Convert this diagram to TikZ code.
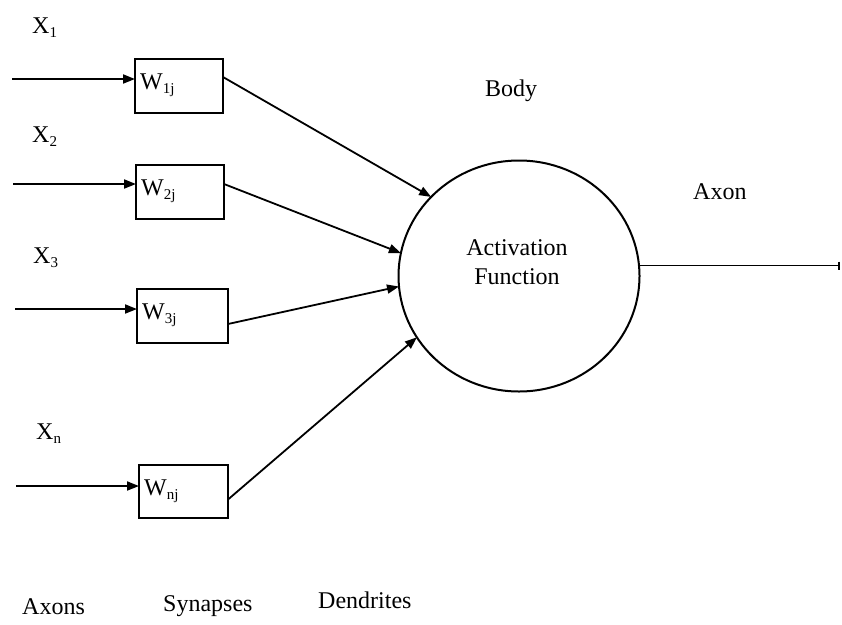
\documentclass[tikz,border=0pt]{standalone}
\usepackage{fontspec}
\setmainfont{Liberation Serif}
\usetikzlibrary{shapes.geometric,arrows.meta}
\newcommand\lowix[1]{\raisebox{-4pt}{\fontsize{15}{15}\selectfont #1}}
\tikzset{
  txt/.style={font=\fontsize{24}{29}\selectfont, inner sep=0pt, anchor=base west},
  wbox/.style={draw, line width=1.8pt, anchor=north west, minimum width=88pt, minimum height=54pt, inner sep=0pt, outer sep=0pt},
  wlab/.style={anchor=north west, font=\fontsize{24}{29}\selectfont, inner sep=0pt, xshift=5pt, yshift=-15pt},
  sarrow/.style={line width=1.8pt, -{Triangle[length=12pt,width=9pt]}},
}

\begin{document}
\begin{tikzpicture}[x=1pt, y=-1pt]
        \useasboundingbox (0,0) rectangle (842,624);
        \node[txt] (x1) at (32,33) {X\lowix{1}};
        \node[txt] (x2) at (32,142) {X\lowix{2}};
        \node[txt] (x3) at (33,263) {X\lowix{3}};
        \node[txt] (xn) at (36,439) {X\lowix{n}};
        \node[wbox, label={[wlab]north west:W\lowix{1j}}] (w1) at (135,59) {};
        \node[wbox, label={[wlab]north west:W\lowix{2j}}] (w2) at (136,165) {};
        \node[wbox, minimum width=91pt, label={[wlab]north west:W\lowix{3j}}] (w3) at (137,289) {};
        \node[wbox, minimum width=89pt, minimum height=53pt, label={[wlab]north west:W\lowix{nj}}] (wn) at (139,465) {};
        \coordinate (in1) at (12,79) {};
        \coordinate (in2) at (13,184) {};
        \coordinate (in3) at (15,309) {};
        \coordinate (inn) at (16,486) {};
        \draw[sarrow] (in1) -- (in1 -| w1.west);
        \draw[sarrow] (in2) -- (in2 -| w2.west);
        \draw[sarrow] (in3) -- (in3 -| w3.west);
        \draw[sarrow] (inn) -- (inn -| wn.west);
        \node[draw, ellipse, line width=2pt, minimum width=241pt, minimum height=231pt, inner sep=0pt, outer sep=0pt] (body) at (519,276) {};
        \node[txt, anchor=center, align=center] (actfn) at (517,262.5) {Activation\\Function};
        \node[txt] (bodylab) at (485,96) {Body};
        \node[txt] (axonlab) at (693,199) {Axon};
        \draw[sarrow] ([yshift=9pt]w1.east) -- (body.138);
        \draw[sarrow] ([yshift=8pt]w2.east) -- (body.169);
        \draw[sarrow] ([yshift=-8pt]w3.east) -- (body.185);
        \draw[sarrow] ([yshift=-8pt]wn.east) -- (body.211);
        \coordinate (axend) at (840,0) {};
        \draw[line width=1.6pt, -{Bar[width=8pt]}] (body.5) -- (body.5 -| axend);
        \node[txt] (axons) at (22,614) {Axons};
        \node[txt] (synapses) at (163,611) {Synapses};
        \node[txt] (dendrites) at (318,608) {Dendrites};
\end{tikzpicture}
\end{document}
